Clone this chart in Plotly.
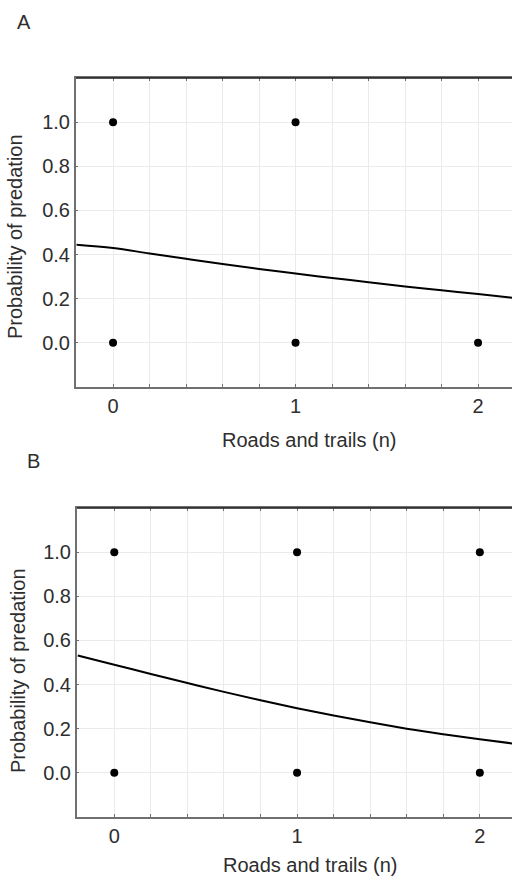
import plotly.graph_objects as go

# Observed outcomes (1 = predated, 0 = not predated) by number of roads and trails
roads_a = [0, 1, 0, 1, 2]
predation_a = [1, 1, 0, 0, 0]

roads_b = [0, 1, 2, 0, 1, 2]
predation_b = [1, 1, 1, 0, 0, 0]

# Fitted logistic curves
curve_x = [-0.2, 0.0, 0.2, 0.4, 0.6, 0.8, 1.0, 1.2, 1.4, 1.6, 1.8, 2.0, 2.2]
curve_a = [0.445, 0.430, 0.405, 0.381, 0.357, 0.335, 0.314, 0.294, 0.275, 0.255, 0.238, 0.221, 0.203]
curve_b = [0.532, 0.490, 0.448, 0.407, 0.367, 0.329, 0.293, 0.260, 0.229, 0.200, 0.175, 0.152, 0.131]

y_ticks = [0.0, 0.2, 0.4, 0.6, 0.8, 1.0]
y_tick_text = ["0.0", "0.2", "0.4", "0.6", "0.8", "1.0"]
x_ticks = [0, 1, 2]

W, H = 512, 877
FONT = "Liberation Sans, Arial, sans-serif"
TXT = "#2e2e2e"
GRID = "#ebebeb"
AXIS = "#707070"

fig = go.Figure()

for (xs, ys, cy, xa, ya) in [
    (roads_a, predation_a, curve_a, "x", "y"),
    (roads_b, predation_b, curve_b, "x2", "y2"),
]:
    fig.add_trace(go.Scatter(
        x=curve_x, y=cy, mode="lines", line=dict(color="black", width=2, shape="spline"),
        xaxis=xa, yaxis=ya, showlegend=False, hoverinfo="skip"))
    fig.add_trace(go.Scatter(
        x=xs, y=ys, mode="markers", marker=dict(color="black", size=8),
        xaxis=xa, yaxis=ya, showlegend=False))


def xaxis_cfg(rng, dom, anchor):
    return dict(
        domain=dom, range=rng, anchor=anchor,
        tickvals=x_ticks, ticks="inside", ticklen=3, tickcolor=AXIS,
        showgrid=True, gridcolor=GRID, gridwidth=1,
        minor=dict(dtick=0.2, tick0=0, ticks="inside", ticklen=3, tickcolor=AXIS,
                   showgrid=True, gridcolor=GRID, gridwidth=1),
        showline=True, linecolor=AXIS, linewidth=2, mirror="ticks",
        zeroline=False, tickfont=dict(family=FONT, size=20, color=TXT),
        fixedrange=True,
    )


def yaxis_cfg(dom, anchor):
    return dict(
        domain=dom, range=[-0.2, 1.2], anchor=anchor,
        tickvals=y_ticks, ticktext=y_tick_text, ticks="inside", ticklen=2, tickcolor=AXIS,
        showgrid=True, gridcolor=GRID, gridwidth=1,
        showline=True, linecolor=AXIS, linewidth=2,
        zeroline=False, tickfont=dict(family=FONT, size=20, color=TXT),
        fixedrange=True,
    )


def py(px):
    return 1 - px / H


fig.update_layout(
    width=W, height=H,
    margin=dict(l=0, r=0, t=0, b=0),
    paper_bgcolor="white", plot_bgcolor="white",
    xaxis=xaxis_cfg([-0.203, 2.186], [76 / W, 1], "y"),
    yaxis=yaxis_cfg([py(387), py(78)], "x"),
    xaxis2=xaxis_cfg([-0.204, 2.176], [77 / W, 1], "y2"),
    yaxis2=yaxis_cfg([py(817), py(508)], "x2"),
)

# Dark top frame line of each panel
for xr, yr in [("x domain", "y domain"), ("x2 domain", "y2 domain")]:
    fig.add_shape(type="line", xref=xr, yref=yr, x0=0, x1=1, y0=1, y1=1,
                  line=dict(color="#1e1e1e", width=1.5), layer="above")

annotations = [
    dict(text="A", x=24 / W, y=py(22)),
    dict(text="B", x=33 / W, y=py(461)),
    dict(text="Probability of predation", x=15 / W, y=py(237), textangle=-90),
    dict(text="Probability of predation", x=18 / W, y=py(671), textangle=-90),
    dict(text="Roads and trails (n)", x=309 / W, y=py(440)),
    dict(text="Roads and trails (n)", x=310 / W, y=py(865)),
]
for a in annotations:
    fig.add_annotation(
        xref="paper", yref="paper", xanchor="center", yanchor="middle",
        showarrow=False, font=dict(family=FONT, size=20, color=TXT), **a)

fig.write_html("out.html")
